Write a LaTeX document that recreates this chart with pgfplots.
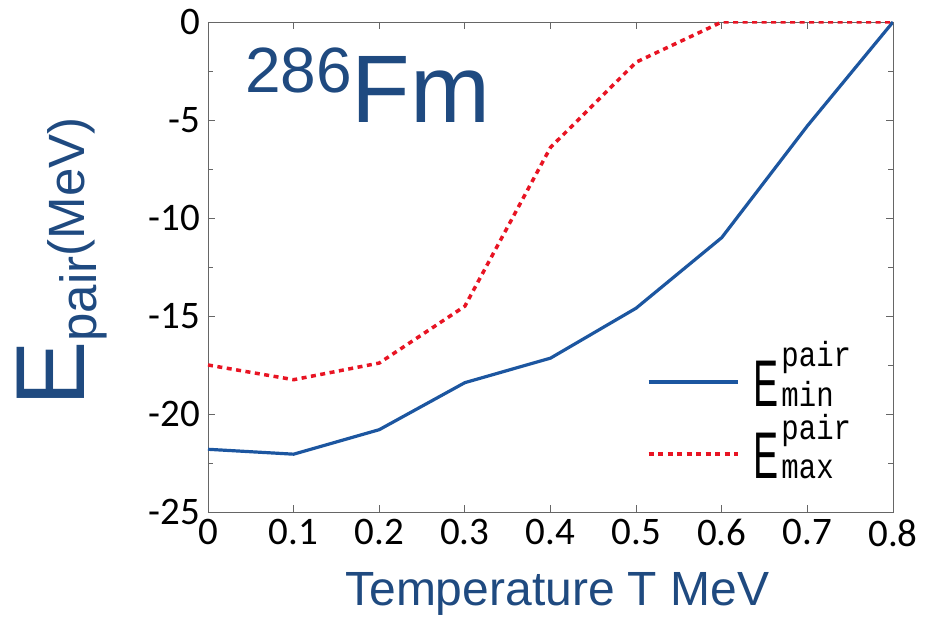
\documentclass[border=0pt]{standalone}
\usepackage{pgfplots}
\pgfplotsset{compat=1.18}
\usepackage{fontspec}
\setmainfont{Liberation Sans}
\newfontfamily\carlito{Carlito}
\newfontfamily\monofnt{Liberation Mono}
\definecolor{txtblue}{RGB}{31,74,128}
\definecolor{lineblue}{RGB}{28,86,160}
\definecolor{linered}{RGB}{232,20,35}
\newcommand\legE[1]{\scalebox{0.57}[1]{\fontsize{66}{66}\selectfont E}\hspace{3pt}\scalebox{1}[1.2]{\fontsize{29}{29}\monofnt\rlap{\raisebox{33pt}{pair}}#1}\hspace{36pt}}
\begin{document}
\begin{tikzpicture}
\path[use as bounding box] (-208pt,-104pt) rectangle (718pt,512pt);
\begin{axis}[
  at={(0,0)}, anchor=south west,
  scale only axis, width=685pt, height=490pt,
  xmin=0, xmax=0.8, ymin=-25, ymax=0,
  xtick={0,0.1,...,0.8}, ytick={-25,-20,...,0},
  minor y tick num=1,
  tick align=inside, tick pos=both,
  major tick length=7pt, minor tick length=5pt,
  axis line style={gray!80!black, line width=0.8pt},
  tick style={gray!80!black, line width=0.8pt},
  tick label style={font=\fontsize{39}{39}\selectfont\carlito, /pgf/number format/assume math mode=true},
  xticklabel style={yshift=-4pt, /pgf/number format/.cd, fixed, precision=1, assume math mode=true},
  yticklabel style={xshift=-4pt},
  xlabel={Temperature T MeV},
  xlabel style={font=\fontsize{48}{48}\selectfont, text=txtblue, at={(axis description cs:0.51,-0.19)}, anchor=base},
  ylabel={{\fontsize{98}{98}\selectfont E}\raisebox{-12pt}{\fontsize{51}{51}\selectfont pair}{\fontsize{51}{51}\selectfont (MeV)}},
  ylabel style={text=txtblue, at={(axis description cs:-0.18,0.51)}, anchor=base, rotate=0},
  legend style={draw=none, fill=none, at={(axis description cs:0.636,0.06)}, anchor=south west, row sep=6pt, column sep=14pt, nodes={inner sep=0pt}},
  legend cell align=left,
  legend image code/.code={\draw[#1] (0pt,-7pt) -- (89pt,-7pt);},
]
\addplot[lineblue, line width=3.2pt] coordinates {
(0,-21.8) (0.1,-22.05) (0.2,-20.8) (0.3,-18.4) (0.4,-17.15) (0.5,-14.6) (0.6,-11.0) (0.7,-5.3) (0.8,0)};
\addlegendentry{\legE{min}}
\addplot[linered, line width=3.5pt, dash pattern=on 5pt off 4.5pt] coordinates {
(0,-17.5) (0.1,-18.25) (0.2,-17.4) (0.3,-14.5) (0.4,-6.4) (0.5,-2.05) (0.6,0) (0.7,0) (0.8,0)};
\addlegendentry{\legE{max}}
\node[anchor=base west, text=txtblue, inner sep=0pt] at (axis description cs:0.054,0.794)
  {\raisebox{30pt}{\fontsize{64}{64}\selectfont 286}\fontsize{96}{96}\selectfont Fm};
\end{axis}
\end{tikzpicture}
\end{document}
